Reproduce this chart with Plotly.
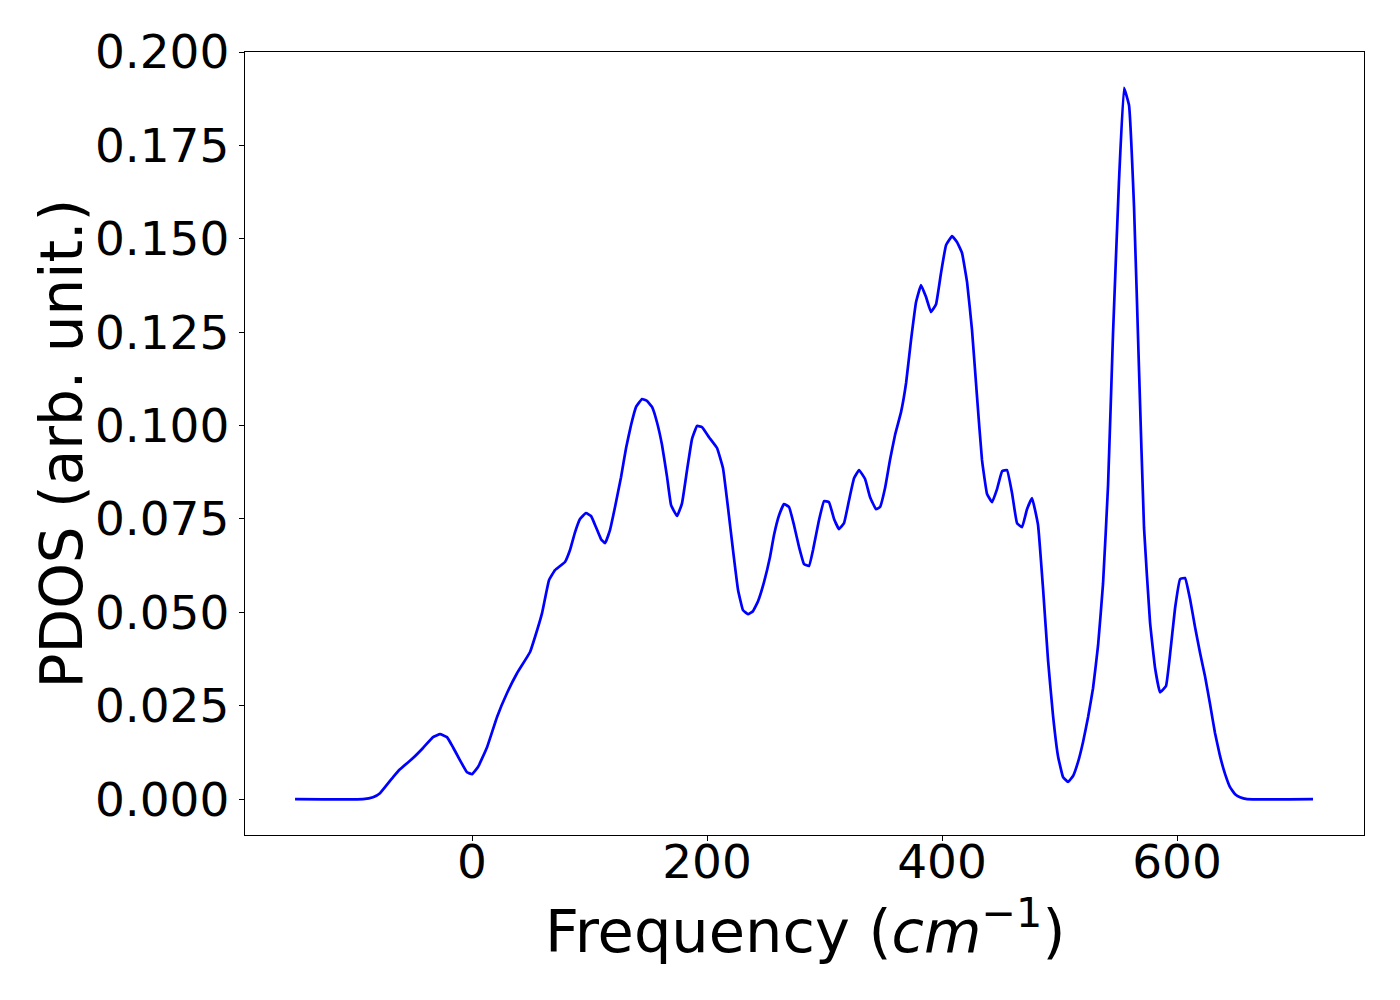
import plotly.graph_objects as go

freq = [-150.6, -92.8, -84.3, -78.3, -67.2, -61.3, -50.2, -41.7, -33.2, -27.2,
        -21.3, -16.2, -10.2, -4.3, 0.0, 5.1, 12.8, 21.3, 29.8, 38.3,
        49.4, 53.6, 59.6, 65.5, 70.6, 79.1, 83.4, 87.7, 91.9, 97.0,
        101.3, 105.5, 109.8, 113.2, 117.4, 121.7, 126.8, 131.1, 135.3, 139.6,
        144.7, 148.9, 153.2, 157.4, 161.7, 166.0, 169.4, 174.5, 178.7, 183.0,
        187.2, 191.5, 195.7, 201.7, 208.5, 213.6, 217.9, 222.1, 226.4, 230.6,
        234.9, 239.1, 243.4, 248.5, 253.6, 257.0, 261.3, 265.5, 269.8, 274.0,
        278.3, 282.6, 286.8, 290.2, 295.3, 299.6, 303.8, 308.1, 312.3, 316.6,
        320.9, 325.1, 329.4, 334.5, 338.7, 343.8, 347.2, 351.5, 355.7, 360.0,
        365.1, 369.4, 373.6, 377.9, 382.1, 386.4, 390.6, 394.9, 399.1, 403.4,
        408.5, 412.8, 417.0, 421.3, 425.5, 429.8, 434.0, 438.3, 442.6, 446.8,
        451.1, 455.3, 459.6, 463.8, 468.1, 472.3, 476.6, 481.7, 486.0, 490.2,
        494.5, 498.7, 503.0, 507.2, 511.5, 515.7, 520.0, 524.3, 528.5, 532.8,
        537.0, 541.3, 545.5, 550.6, 554.9, 559.1, 563.4, 567.7, 571.9, 577.0,
        581.3, 585.5, 590.6, 594.0, 598.3, 602.6, 606.8, 611.1, 615.3, 619.6,
        623.8, 628.1, 632.3, 636.6, 640.9, 645.1, 649.4, 653.6, 659.6, 715.7]

pdos = [0.0, 0.0, 0.0005, 0.0016, 0.0059, 0.0080, 0.0110, 0.0137, 0.0166, 0.0174,
        0.0166, 0.0139, 0.0104, 0.0072, 0.0067, 0.0086, 0.0139, 0.0220, 0.0284, 0.0337,
        0.0394, 0.0434, 0.0498, 0.0586, 0.0613, 0.0635, 0.0667, 0.0715, 0.0750, 0.0766,
        0.0758, 0.0728, 0.0696, 0.0685, 0.0720, 0.0782, 0.0862, 0.0940, 0.1001, 0.1050,
        0.1071, 0.1066, 0.1050, 0.1009, 0.0948, 0.0862, 0.0787, 0.0758, 0.0792, 0.0881,
        0.0964, 0.0999, 0.0996, 0.0969, 0.0940, 0.0886, 0.0779, 0.0667, 0.0560, 0.0506,
        0.0495, 0.0503, 0.0530, 0.0581, 0.0648, 0.0707, 0.0760, 0.0790, 0.0782, 0.0734,
        0.0675, 0.0629, 0.0624, 0.0667, 0.0747, 0.0798, 0.0795, 0.0750, 0.0723, 0.0739,
        0.0801, 0.0859, 0.0881, 0.0857, 0.0809, 0.0776, 0.0782, 0.0833, 0.0908, 0.0975,
        0.1036, 0.1114, 0.1229, 0.1331, 0.1376, 0.1344, 0.1304, 0.1325, 0.1408, 0.1483,
        0.1507, 0.1491, 0.1462, 0.1384, 0.1256, 0.1076, 0.0908, 0.0817, 0.0795, 0.0830,
        0.0878, 0.0881, 0.0819, 0.0739, 0.0728, 0.0776, 0.0806, 0.0734, 0.0562, 0.0372,
        0.0222, 0.0115, 0.0059, 0.0046, 0.0062, 0.0099, 0.0153, 0.0220, 0.0297, 0.0412,
        0.0576, 0.0841, 0.1245, 0.1655, 0.1904, 0.1858, 0.1585, 0.1143, 0.0726, 0.0474,
        0.0351, 0.0286, 0.0303, 0.0386, 0.0511, 0.0589, 0.0592, 0.0535, 0.0461, 0.0391,
        0.0329, 0.0254, 0.0177, 0.0115, 0.0067, 0.0032, 0.0013, 0.0005, 0.0, 0.0]

x_ticks = [0, 200, 400, 600]
y_ticks = [0.000, 0.025, 0.050, 0.075, 0.100, 0.125, 0.150, 0.175, 0.200]
x_title = "Frequency (<i>cm</i><sup>−1</sup>)"
y_title = "PDOS (arb. unit.)"

fig = go.Figure()
fig.add_trace(go.Scatter(x=freq, y=pdos, mode="lines",
                         line=dict(color="#0000ff", width=2.7, shape="spline", smoothing=0.3),
                         showlegend=False, hoverinfo="skip"))

font = "DejaVu Sans"
axis_common = dict(showline=True, mirror=True, linecolor="black", linewidth=1.3,
                   ticks="outside", ticklen=5, tickwidth=1.2, tickcolor="black",
                   showgrid=False, zeroline=False,
                   tickfont=dict(family=font, size=47, color="black"))

fig.update_layout(
    width=1400, height=1000,
    margin=dict(l=237, r=44, t=44, b=173),
    paper_bgcolor="white", plot_bgcolor="white",
    xaxis=dict(range=[-193.2, 759.1], tickvals=x_ticks,
               ticktext=[str(v) for v in x_ticks],
               ticklabelstandoff=-20,
               **axis_common),
    yaxis=dict(range=[-0.0096, 0.20001], tickvals=y_ticks,
               ticktext=[f"{v:.3f}" for v in y_ticks],
               ticklabelstandoff=0,
               **axis_common),
    annotations=[
        dict(text=x_title, xref="paper", yref="paper", x=0.5, y=0,
             xanchor="center", yanchor="top", yshift=-52, showarrow=False,
             font=dict(family=font, size=59, color="black")),
        dict(text=y_title, xref="paper", yref="paper", x=0, y=0.5,
             xanchor="center", yanchor="middle", xshift=-184, textangle=-90,
             showarrow=False, font=dict(family=font, size=58, color="black")),
    ],
)

fig.write_html("out.html")
